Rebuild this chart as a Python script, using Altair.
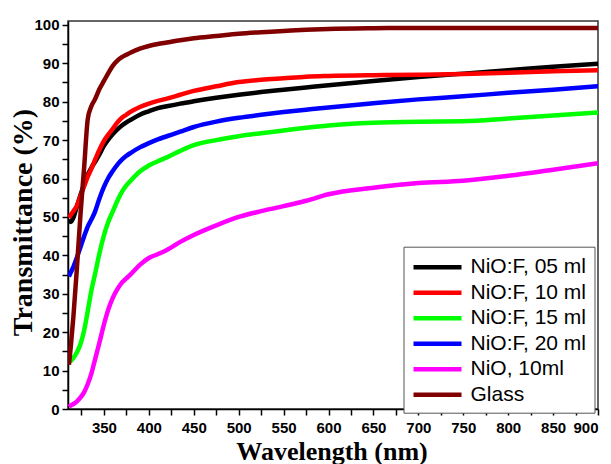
import altair as alt
import pandas as pd

# Wavelength grid (nm)
wavelength = [311, 313, 316, 320, 324, 328, 332, 336, 340, 345, 350, 355, 360, 365, 370,
              375, 380, 390, 400, 410, 420, 435, 450, 475, 500, 525, 550, 575, 600, 650,
              700, 750, 800, 850, 900]

# Transmittance (%) per series
nio_f_05 = [49.3, 48.7, 49.8, 52.8, 55.8, 58.5, 61.0, 62.8, 64.3, 66.3, 68.5, 70.2, 71.6, 72.8, 73.8,
            74.6, 75.3, 76.6, 77.5, 78.3, 78.8, 79.5, 80.1, 81.0, 81.8, 82.5, 83.1, 83.7, 84.3, 85.4,
            86.4, 87.3, 88.2, 89.1, 89.9]
nio_f_10 = [49.8, 50.5, 51.5, 53.0, 55.5, 58.0, 60.5, 62.5, 64.8, 67.5, 69.8, 71.5, 73.0, 74.6, 75.8,
            76.6, 77.4, 78.6, 79.5, 80.2, 80.8, 81.8, 82.8, 84.0, 85.1, 85.7, 86.1, 86.5, 86.7, 86.9,
            87.0, 87.2, 87.5, 87.9, 88.2]
nio_f_15 = [12.3, 12.5, 13.3, 14.8, 17.0, 20.5, 25.5, 30.8, 35.0, 40.5, 45.2, 48.8, 51.5, 54.2, 56.5,
            58.2, 59.5, 61.8, 63.4, 64.5, 65.5, 67.2, 68.7, 70.0, 71.0, 71.8, 72.5, 73.2, 73.8, 74.5,
            74.8, 74.9, 75.6, 76.4, 77.2]
nio_f_20 = [34.5, 35.5, 37.0, 39.5, 42.2, 45.0, 47.5, 49.3, 51.3, 54.8, 57.8, 60.2, 62.0, 63.6, 64.9,
            65.9, 66.7, 68.1, 69.2, 70.2, 71.0, 72.2, 73.4, 74.8, 75.8, 76.6, 77.3, 77.9, 78.5, 79.6,
            80.6, 81.4, 82.3, 83.1, 84.0]
nio_10 = [0.6, 0.9, 1.3, 2.0, 3.0, 4.4, 6.5, 9.2, 12.8, 17.3, 22.0, 26.0, 29.0, 31.2, 32.9,
          34.0, 35.1, 37.5, 39.3, 40.3, 41.4, 43.5, 45.3, 47.8, 50.0, 51.5, 52.8, 54.2, 55.9, 57.6,
          58.8, 59.4, 60.7, 62.3, 64.0]
glass = [11.5, 16.0, 24.0, 37.0, 51.0, 63.0, 75.5, 78.8, 80.6, 83.3, 85.4, 87.5, 89.4, 90.7, 91.6,
         92.2, 92.8, 93.8, 94.5, 95.0, 95.4, 96.0, 96.5, 97.1, 97.7, 98.1, 98.4, 98.7, 98.9, 99.1,
         99.2, 99.2, 99.2, 99.2, 99.2]

series_names = ["NiO:F, 05 ml", "NiO:F, 10 ml", "NiO:F, 15 ml", "NiO:F, 20 ml", "NiO, 10ml", "Glass"]
series_colors = ["#000000", "#ff0000", "#00ff00", "#0000ff", "#ff00ff", "#800000"]
series_values = [nio_f_05, nio_f_10, nio_f_15, nio_f_20, nio_10, glass]

x_ticks = list(range(325, 901, 25))
y_ticks = list(range(0, 101, 5))

rows = []
for name, vals in zip(series_names, series_values):
    for w, v in zip(wavelength, vals):
        rows.append({"wl": w, "T": v, "series": name})
df = pd.DataFrame(rows)

chart = alt.Chart(df).mark_line(strokeWidth=4.5, interpolate="monotone", clip=True).encode(
    x=alt.X("wl:Q",
            scale=alt.Scale(domain=[310, 900], nice=False, zero=False),
            axis=alt.Axis(values=x_ticks,
                          labelExpr="datum.value % 50 == 0 ? datum.label : ''",
                          labelFlush=True,
                          title="Wavelength (nm)",
                          titleFont="Liberation Serif", titleFontSize=26, titleFontWeight="bold",
                          titleX=263.5, titleY=50, titleAlign="center", titleBaseline="alphabetic",
                          labelPadding=5)),
    y=alt.Y("T:Q",
            scale=alt.Scale(domain=[0, 101], nice=False),
            axis=alt.Axis(values=y_ticks,
                          labelExpr="datum.value % 10 == 0 ? datum.label : ''",
                          title="Transmittance (%)",
                          titleFont="Liberation Serif", titleFontSize=28, titleFontWeight="bold",
                          titleX=-45, titleY=201, titleAlign="center", titleBaseline="middle",
                          titleAngle=270, labelPadding=3)),
    color=alt.Color("series:N",
                    scale=alt.Scale(domain=series_names, range=series_colors),
                    legend=alt.Legend(title=None, orient="none", legendX=335.5, legendY=225.7,
                                      symbolType="M-1.05,0H3.75", symbolSize=400,
                                      symbolStrokeWidth=4.5, labelFontSize=21,
                                      labelFont="Liberation Sans", labelColor="black",
                                      labelOffset=34, rowPadding=2.5, padding=8,
                                      strokeColor="#555555", fillColor="white")),
).properties(
    width=530, height=388,
    autosize=alt.AutoSizeParams(type="none"),
    padding={"left": 60, "top": 13, "right": 5, "bottom": 55},
).configure_axis(
    grid=False, domainColor="black", domainWidth=1.5, tickColor="black", tickWidth=1.5,
    tickSize=6, labelFont="Liberation Sans", labelFontWeight="bold", labelFontSize=15,
    labelColor="black", titleColor="black",
).configure_view(stroke="#333333", strokeWidth=1.5)

chart.save("out.html", embed_options={"renderer": "svg", "actions": False})
